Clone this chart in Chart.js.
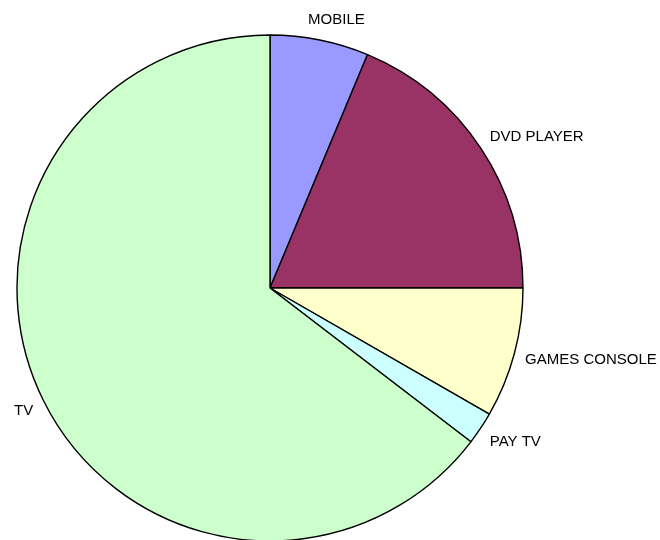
<!DOCTYPE html>
<html>
<head>
<meta charset="utf-8">
<script src="https://cdn.jsdelivr.net/npm/chart.js@4"></script>
<style>
	html, body { margin: 0; padding: 0; background: #fff; }
	#wrap { width: 660px; height: 540px; }
</style>
</head>
<body>
<div id="wrap"><canvas id="mycanvas" width="660" height="540"></canvas></div>
<script>
var Categories = ["MOBILE", "DVD PLAYER", "GAMES CONSOLE", "PAY TV", "TV"];
var Share = [6.3, 18.7, 8.3, 2.1, 64.6];
var Colours = ["#9999FF", "#993366", "#FFFFCC", "#CCFFFF", "#CCFFCC"];

// labels outside each slice, Excel style
var outsideLabels = {
	id: 'outsideLabels',
	afterDatasetsDraw: function(chart) {
		var ctx = chart.ctx;
		var arcs = chart.getDatasetMeta(0).data;
		ctx.save();
		ctx.font = '15px "Liberation Sans", Arial, sans-serif';
		ctx.fillStyle = '#000';
		ctx.textBaseline = 'middle';
		ctx.textAlign = 'left';
		for (var i = 0; i < arcs.length; i++) {
			var a = arcs[i];
			var mid = (a.startAngle + a.endAngle) / 2;
			var r = a.outerRadius + 11;
			var c = Math.cos(mid), s = Math.sin(mid);
			var x = a.x + c * r;
			var y = a.y + s * r + s * (s > 0 ? 13 : 9);
			var w = ctx.measureText(Categories[i]).width;
			var k = Math.max(-1, Math.min(1, c * 2.6));
			ctx.fillText(Categories[i], x - w * (1 - k) / 2, y);
		}
		ctx.restore();
	}
};

var chartdata = {
	labels: Categories,
	datasets: [
		{
			data: Share,
			backgroundColor: Colours,
			borderColor: '#000',
			borderWidth: 1.4
		}
	]
};

var pie = new Chart(document.getElementById('mycanvas'), {
	type: 'pie',
	data: chartdata,
	options: {
		responsive: false,
		animation: false,
		radius: 253,
		layout: { padding: { left: 0, right: 120, top: 36, bottom: 0 } },
		plugins: {
			legend: { display: false },
			tooltip: { enabled: false }
		}
	},
	plugins: [outsideLabels]
});
</script>
</body>
</html>
